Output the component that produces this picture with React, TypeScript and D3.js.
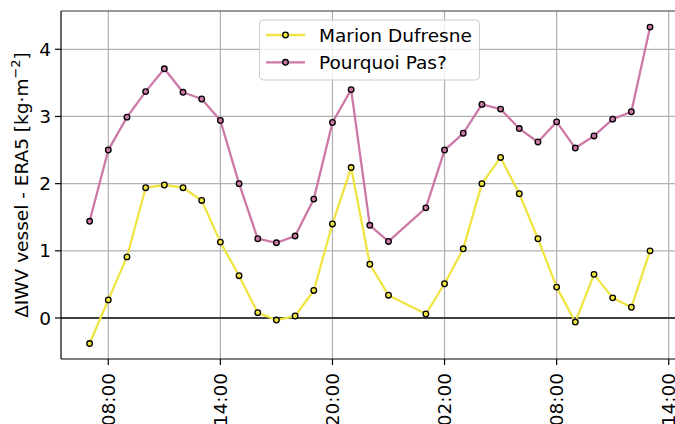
import React from "react";
import * as d3 from "d3";

// Hours since 00:00 of day 1 (no sample at 00:00 of day 2)
const hours = [7, 8, 9, 10, 11, 12, 13, 14, 15, 16, 17, 18, 19, 20, 21, 22, 23, 25, 26, 27, 28, 29, 30, 31, 32, 33, 34, 35, 36, 37];
const marion = [-0.38, 0.27, 0.91, 1.94, 1.98, 1.94, 1.75, 1.13, 0.63, 0.08, -0.03, 0.03, 0.41, 1.40, 2.24, 0.80, 0.34, 0.06, 0.51, 1.03, 2.00, 2.39, 1.85, 1.18, 0.46, -0.06, 0.65, 0.30, 0.16, 1.00];
const pourquoi = [1.44, 2.50, 2.99, 3.37, 3.71, 3.36, 3.26, 2.94, 2.00, 1.18, 1.12, 1.22, 1.77, 2.91, 3.40, 1.38, 1.14, 1.64, 2.50, 2.75, 3.18, 3.11, 2.82, 2.62, 2.92, 2.53, 2.71, 2.96, 3.07, 4.33];
const seriesNames = ["Marion Dufresne", "Pourquoi Pas?"];
const seriesColors = ["#f0e442", "#cc79a7"];
const xTickHours = [8, 14, 20, 26, 32, 38];
const yTicks = [0, 1, 2, 3, 4];

const base = new Date(2020, 0, 1, 0, 0, 0);
const toDate = (h: number) => new Date(base.getTime() + h * 3600 * 1000);

const W = 675;
const H = 424;
const M = { left: 61, top: 11, bottom: 359 };
const FONT = "DejaVu Sans, sans-serif";
const FS = 18.5;

export default function App() {
  const x = d3.scaleTime().domain([toDate(5 + 28.1 / 60), toDate(39)]).range([M.left, 687.4]);
  const y = d3.scaleLinear().domain([-0.61, 4.57]).range([M.bottom, M.top]);
  const fmt = d3.timeFormat("%H:%M");
  const line = d3
    .line<[number, number]>()
    .x((d) => x(toDate(d[0])))
    .y((d) => y(d[1]));
  const series = [marion, pourquoi];
  const right = W + 2;

  return (
    <>
      <style>{"body{margin:0;}"}</style>
      <svg width={W} height={H} style={{ display: "block", fontFamily: FONT }}>
        <rect x={0} y={0} width={W} height={H} fill="#fff" />
        {/* grid */}
        {xTickHours.map((h) => (
          <line key={"gx" + h} x1={x(toDate(h))} x2={x(toDate(h))} y1={M.top} y2={M.bottom} stroke="#b0b0b0" strokeWidth={1.2} />
        ))}
        {yTicks.map((v) => (
          <line key={"gy" + v} x1={M.left} x2={right} y1={y(v)} y2={y(v)} stroke="#b0b0b0" strokeWidth={1.2} />
        ))}
        {/* zero line */}
        <line x1={M.left} x2={right} y1={y(0)} y2={y(0)} stroke="#404040" strokeWidth={2} />
        {/* series */}
        {series.map((vals, i) => {
          const pts = hours.map((h, j) => [h, vals[j]] as [number, number]);
          return (
            <g key={"s" + i}>
              <path d={line(pts) || ""} fill="none" stroke={seriesColors[i]} strokeWidth={2.3} strokeLinejoin="round" />
              {pts.map((p, j) => (
                <circle key={j} cx={x(toDate(p[0]))} cy={y(p[1])} r={2.8} fill={seriesColors[i]} stroke="#000" strokeWidth={1.3} />
              ))}
            </g>
          );
        })}
        {/* spines */}
        <line x1={M.left} x2={M.left} y1={M.top} y2={M.bottom} stroke="#000" strokeWidth={1.2} />
        <line x1={M.left} x2={right} y1={M.top} y2={M.top} stroke="#333" strokeWidth={1.2} />
        <line x1={M.left} x2={right} y1={M.bottom} y2={M.bottom} stroke="#000" strokeWidth={1.2} />
        {/* y ticks */}
        {yTicks.map((v) => (
          <g key={"ty" + v}>
            <line x1={M.left - 6} x2={M.left} y1={y(v)} y2={y(v)} stroke="#000" strokeWidth={1.2} />
            <text x={51} y={y(v)} dy="0.36em" textAnchor="end" fontSize={FS} fill="#000">
              {v}
            </text>
          </g>
        ))}
        {/* x ticks */}
        {xTickHours.map((h) => {
          const tx = x(toDate(h));
          return (
            <g key={"tx" + h}>
              <line x1={tx} x2={tx} y1={M.bottom} y2={M.bottom + 6} stroke="#000" strokeWidth={1.2} />
              <text transform={`translate(${tx},${M.bottom + 14}) rotate(-90)`} dy="0.36em" textAnchor="end" fontSize={FS} fill="#000">
                {fmt(toDate(h))}
              </text>
            </g>
          );
        })}
        {/* y label */}
        <text transform={`translate(28,${(M.top + M.bottom) / 2}) rotate(-90)`} textAnchor="middle" fontSize={FS} fill="#000">
          ΔIWV vessel - ERA5 [kg·m
          <tspan fontSize={13} dy={-8}>−2</tspan>
          <tspan dy={8}>]</tspan>
        </text>
        {/* legend */}
        <rect x={259.5} y={20} width={220} height={60} rx={4} fill="#fff" fillOpacity={0.8} stroke="#cccccc" strokeWidth={1} />
        {seriesNames.map((n, i) => {
          const ly = 35 + i * 27.3;
          return (
            <g key={"lg" + i}>
              <line x1={266} x2={305} y1={ly} y2={ly} stroke={seriesColors[i]} strokeWidth={2.3} />
              <circle cx={285.5} cy={ly} r={2.8} fill={seriesColors[i]} stroke="#000" strokeWidth={1.3} />
              <text x={319} y={ly} dy="0.36em" fontSize={FS} fill="#000">
                {n}
              </text>
            </g>
          );
        })}
      </svg>
    </>
  );
}
